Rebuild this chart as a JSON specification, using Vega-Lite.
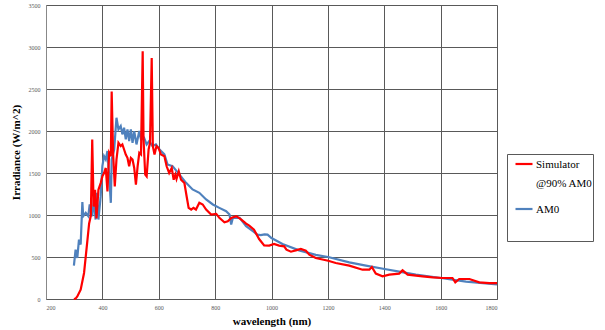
{
  "$schema": "https://vega.github.io/schema/vega-lite/v6.json",
  "width": 451,
  "height": 294,
  "autosize": {"type": "none"},
  "padding": {"left": 46, "top": 5, "right": 108, "bottom": 31},
  "background": "white",
  "config": {"view": {"stroke": null}},
  "datasets": {
    "sim": [
      {"wl":299,"irr":0},{"wl":305,"irr":5},{"wl":311,"irr":30},{"wl":323,"irr":110},{"wl":335,"irr":310},{"wl":347,"irr":700},{"wl":353,"irr":900},{"wl":359,"irr":990},{"wl":364,"irr":1900},{"wl":369,"irr":1100},{"wl":374,"irr":1300},{"wl":379,"irr":960},{"wl":386,"irr":1300},{"wl":394,"irr":1380},{"wl":400,"irr":1460},{"wl":406,"irr":1500},{"wl":412,"irr":1560},{"wl":418,"irr":1280},{"wl":424,"irr":1740},{"wl":430,"irr":1700},{"wl":433,"irr":2470},{"wl":438,"irr":1740},{"wl":444,"irr":1340},{"wl":450,"irr":1660},{"wl":457,"irr":1860},{"wl":465,"irr":1820},{"wl":471,"irr":1840},{"wl":477,"irr":1780},{"wl":483,"irr":1720},{"wl":489,"irr":1680},{"wl":495,"irr":1580},{"wl":501,"irr":1680},{"wl":507,"irr":1660},{"wl":513,"irr":1560},{"wl":519,"irr":1360},{"wl":525,"irr":1580},{"wl":531,"irr":1740},{"wl":537,"irr":1720},{"wl":543,"irr":2950},{"wl":546,"irr":1900},{"wl":552,"irr":1480},{"wl":557,"irr":1460},{"wl":564,"irr":1780},{"wl":569,"irr":1860},{"wl":575,"irr":2870},{"wl":579,"irr":1820},{"wl":585,"irr":1720},{"wl":592,"irr":1820},{"wl":599,"irr":1800},{"wl":608,"irr":1720},{"wl":620,"irr":1700},{"wl":628,"irr":1580},{"wl":637,"irr":1500},{"wl":646,"irr":1560},{"wl":653,"irr":1420},{"wl":659,"irr":1480},{"wl":663,"irr":1430},{"wl":671,"irr":1520},{"wl":679,"irr":1420},{"wl":691,"irr":1380},{"wl":699,"irr":1220},{"wl":706,"irr":1085},{"wl":715,"irr":1065},{"wl":723,"irr":1085},{"wl":732,"irr":1065},{"wl":744,"irr":1145},{"wl":756,"irr":1125},{"wl":768,"irr":1065},{"wl":786,"irr":1006},{"wl":804,"irr":1014},{"wl":815,"irr":966},{"wl":833,"irr":914},{"wl":845,"irr":926},{"wl":857,"irr":966},{"wl":875,"irr":986},{"wl":893,"irr":946},{"wl":910,"irr":898},{"wl":921,"irr":873},{"wl":938,"irr":825},{"wl":956,"irr":714},{"wl":974,"irr":639},{"wl":992,"irr":635},{"wl":1009,"irr":655},{"wl":1027,"irr":635},{"wl":1045,"irr":627},{"wl":1053,"irr":587},{"wl":1069,"irr":563},{"wl":1086,"irr":579},{"wl":1104,"irr":595},{"wl":1122,"irr":575},{"wl":1134,"irr":528},{"wl":1157,"irr":488},{"wl":1201,"irr":456},{"wl":1228,"irr":429},{"wl":1276,"irr":397},{"wl":1323,"irr":349},{"wl":1347,"irr":349},{"wl":1356,"irr":381},{"wl":1370,"irr":302},{"wl":1394,"irr":270},{"wl":1418,"irr":290},{"wl":1453,"irr":302},{"wl":1465,"irr":341},{"wl":1483,"irr":290},{"wl":1536,"irr":270},{"wl":1572,"irr":258},{"wl":1607,"irr":250},{"wl":1642,"irr":250},{"wl":1652,"irr":198},{"wl":1666,"irr":238},{"wl":1702,"irr":238},{"wl":1737,"irr":198},{"wl":1773,"irr":190},{"wl":1800,"irr":190}
    ],
    "am0": [
      {"wl":299,"irr":397},{"wl":305,"irr":588},{"wl":311,"irr":489},{"wl":317,"irr":707},{"wl":323,"irr":648},{"wl":329,"irr":1153},{"wl":332,"irr":986},{"wl":341,"irr":1025},{"wl":350,"irr":986},{"wl":355,"irr":1125},{"wl":364,"irr":986},{"wl":370,"irr":1185},{"wl":376,"irr":946},{"wl":380,"irr":1264},{"wl":386,"irr":946},{"wl":394,"irr":1224},{"wl":400,"irr":1582},{"wl":406,"irr":1701},{"wl":412,"irr":1662},{"wl":418,"irr":1761},{"wl":424,"irr":1463},{"wl":430,"irr":1145},{"wl":433,"irr":1662},{"wl":442,"irr":1781},{"wl":450,"irr":2158},{"wl":457,"irr":2019},{"wl":465,"irr":2059},{"wl":471,"irr":1960},{"wl":477,"irr":2039},{"wl":483,"irr":1900},{"wl":489,"irr":2019},{"wl":495,"irr":1880},{"wl":501,"irr":2019},{"wl":507,"irr":1860},{"wl":513,"irr":1999},{"wl":521,"irr":1840},{"wl":531,"irr":1999},{"wl":537,"irr":1900},{"wl":548,"irr":1920},{"wl":557,"irr":1840},{"wl":566,"irr":1880},{"wl":578,"irr":1821},{"wl":590,"irr":1840},{"wl":602,"irr":1781},{"wl":620,"irr":1721},{"wl":631,"irr":1602},{"wl":649,"irr":1582},{"wl":673,"irr":1483},{"wl":697,"irr":1383},{"wl":720,"irr":1304},{"wl":744,"irr":1264},{"wl":768,"irr":1185},{"wl":792,"irr":1125},{"wl":815,"irr":1085},{"wl":839,"irr":1045},{"wl":851,"irr":1006},{"wl":857,"irr":886},{"wl":863,"irr":966},{"wl":887,"irr":966},{"wl":910,"irr":867},{"wl":934,"irr":807},{"wl":950,"irr":766},{"wl":962,"irr":760},{"wl":975,"irr":770},{"wl":986,"irr":766},{"wl":1000,"irr":726},{"wl":1039,"irr":655},{"wl":1098,"irr":579},{"wl":1157,"irr":525},{"wl":1201,"irr":500},{"wl":1276,"irr":436},{"wl":1335,"irr":397},{"wl":1401,"irr":357},{"wl":1453,"irr":325},{"wl":1512,"irr":290},{"wl":1601,"irr":250},{"wl":1690,"irr":206},{"wl":1800,"irr":175}
    ]
  },
  "encoding": {
    "x": {
      "field": "wl", "type": "quantitative",
      "scale": {"domain": [200, 1800], "nice": false, "zero": false},
      "axis": {
        "title": "wavelength (nm)", "format": "d",
        "values": [200, 400, 600, 800, 1000, 1200, 1400, 1600, 1800],
        "grid": true, "gridColor": "#595959", "gridWidth": 1,
        "ticks": false, "domainColor": "#595959",
        "labelFont": "Liberation Serif", "labelFontSize": 6, "labelColor": "#595959", "labelPadding": 5,
        "titleFont": "Liberation Serif", "titleFontSize": 11, "titleFontWeight": "bold", "titleColor": "#000000", "titlePadding": 5
      }
    },
    "y": {
      "field": "irr", "type": "quantitative",
      "scale": {"domain": [0, 3500], "nice": false},
      "axis": {
        "title": "Irradiance (W/m^2)", "format": "d",
        "values": [0, 500, 1000, 1500, 2000, 2500, 3000, 3500],
        "grid": true, "gridColor": "#595959", "gridWidth": 1,
        "ticks": false, "domainColor": "#888888",
        "labelFont": "Liberation Serif", "labelFontSize": 6, "labelColor": "#595959", "labelPadding": 6,
        "titleFont": "Liberation Serif", "titleFontSize": 11, "titleFontWeight": "bold", "titleColor": "#000000", "titlePadding": 7
      }
    },
    "color": {
      "field": "series", "type": "nominal",
      "scale": {"domain": ["Simulator @90% AM0", "AM0"], "range": ["#FF0000", "#4F81BD"]},
      "legend": {
        "orient": "none", "legendX": 461, "legendY": 149,
        "title": "                   ", "titleOrient": "bottom", "titleFontSize": 20.5, "titlePadding": 5,
        "strokeColor": "#595959", "fillColor": "white", "padding": 0,
        "symbolType": "stroke", "symbolSize": 289, "symbolStrokeWidth": 2.2, "symbolOffset": 7,
        "labelFont": "Liberation Serif", "labelFontSize": 11, "labelColor": "#000000",
        "labelOffset": 2, "labelLimit": 200, "rowPadding": 10,
        "labelBaseline": "alphabetic",
        "labelExpr": "datum.label == 'Simulator @90% AM0' ? ['Simulator', '@90% AM0'] : datum.label",
        "encode": {"labels": {"update": {"dy": {"value": 4}, "lineHeight": {"value": 19}}}}
      }
    }
  },
  "layer": [
    {
      "data": {"name": "am0"},
      "transform": [{"calculate": "'AM0'", "as": "series"}],
      "mark": {"type": "line", "strokeWidth": 2.2}
    },
    {
      "data": {"name": "sim"},
      "transform": [{"calculate": "'Simulator @90% AM0'", "as": "series"}],
      "mark": {"type": "line", "strokeWidth": 2.2}
    }
  ]
}
